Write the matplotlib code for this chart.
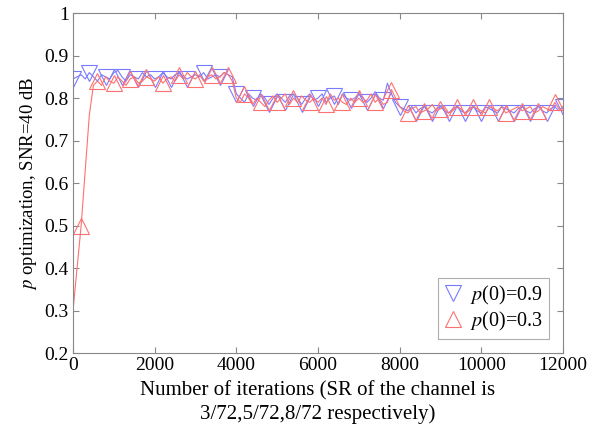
import numpy as np
import matplotlib
matplotlib.use("Agg")
import matplotlib.pyplot as plt

plt.rcParams['font.family'] = 'Liberation Serif'
plt.rcParams['mathtext.fontset'] = 'stix'

iters = np.arange(0, 12001, 100)

p_09 = [0.845, 0.85, 0.855, 0.845, 0.86, 0.85, 0.84, 0.855, 0.85, 0.845,
        0.86, 0.865, 0.85, 0.84, 0.855, 0.85, 0.845, 0.86, 0.85, 0.855,
        0.845, 0.85, 0.86, 0.85, 0.845, 0.855, 0.86, 0.85, 0.845, 0.85,
        0.855, 0.85, 0.86, 0.845, 0.85, 0.855, 0.85, 0.86, 0.855, 0.85,
        0.81, 0.80, 0.79, 0.81, 0.80, 0.795, 0.81, 0.80, 0.785, 0.80,
        0.81, 0.80, 0.79, 0.805, 0.81, 0.80, 0.785, 0.80, 0.81, 0.795,
        0.80, 0.81, 0.79, 0.80, 0.805, 0.785, 0.81, 0.80, 0.795, 0.80,
        0.81, 0.80, 0.79, 0.80, 0.815, 0.80, 0.795, 0.835, 0.81, 0.79,
        0.78, 0.775, 0.77, 0.78, 0.765, 0.775, 0.78, 0.77, 0.765, 0.775,
        0.78, 0.77, 0.765, 0.775, 0.78, 0.77, 0.765, 0.775, 0.78, 0.77,
        0.765, 0.78, 0.775, 0.77, 0.765, 0.78, 0.775, 0.77, 0.765, 0.775,
        0.78, 0.77, 0.765, 0.775, 0.78, 0.77, 0.765, 0.775, 0.78, 0.77, 0.78]

p_03 = [0.30, 0.40, 0.50, 0.63, 0.76,
        0.83, 0.84, 0.83, 0.85, 0.84,
        0.835, 0.85, 0.84, 0.83, 0.845, 0.85, 0.835, 0.84, 0.85, 0.845,
        0.84, 0.85, 0.835, 0.845, 0.85, 0.84, 0.855, 0.845, 0.86, 0.85,
        0.845, 0.855, 0.84, 0.85, 0.855, 0.845, 0.85, 0.86, 0.855, 0.84,
        0.80, 0.79, 0.81, 0.80, 0.785, 0.80, 0.79, 0.78, 0.795, 0.805,
        0.79, 0.80, 0.81, 0.785, 0.80, 0.79, 0.805, 0.795, 0.79, 0.80,
        0.79, 0.80, 0.785, 0.81, 0.795, 0.80, 0.79, 0.785, 0.80, 0.79,
        0.80, 0.79, 0.795, 0.81, 0.79, 0.80, 0.785, 0.79, 0.82, 0.80,
        0.78, 0.77, 0.765, 0.775, 0.78, 0.765, 0.77, 0.775, 0.785, 0.77,
        0.775, 0.78, 0.765, 0.77, 0.78, 0.775, 0.765, 0.77, 0.78, 0.775,
        0.77, 0.765, 0.78, 0.775, 0.77, 0.78, 0.765, 0.77, 0.775, 0.78,
        0.77, 0.775, 0.78, 0.765, 0.77, 0.78, 0.775, 0.77, 0.79, 0.775, 0.77]

fig = plt.figure(figsize=(5.9, 4.36), dpi=100)
ax = fig.add_axes([0.1237, 0.19, 0.8305, 0.78])

ax.plot(iters, p_09, color='#7a7aff', lw=0.8, marker='v', ms=11, mfc='none',
        mew=0.8, markevery=(0, 4), label='$p$(0)=0.9')
ax.plot(iters, p_03, color='#ff7070', lw=0.8, marker='^', ms=11, mfc='none',
        mew=0.8, markevery=(2, 4), label='$p$(0)=0.3')

ax.set_xlim(0, 12000)
ax.set_ylim(0.2, 1)
ax.set_xticks(np.arange(0, 12001, 2000))
ax.set_yticks([0.2, 0.3, 0.4, 0.5, 0.6, 0.7, 0.8, 0.9, 1])
ax.set_yticklabels(['0.2', '0.3', '0.4', '0.5', '0.6', '0.7', '0.8', '0.9', '1'])
ax.tick_params(direction='in', top=True, right=True, labelsize=14,
               color='#888888', length=4, pad=3)
for s in ax.spines.values():
    s.set_color('#888888')

ax.set_xlabel('Number of iterations (SR of the channel is\n3/72,5/72,8/72 respectively)',
              fontsize=15, labelpad=5, linespacing=1.25)
ax.set_ylabel('$p$ optimization, SNR=40 dB', fontsize=13.5, labelpad=4)

leg = ax.legend(loc='lower right', fontsize=14.5, handlelength=0.9,
                handletextpad=0.4, fancybox=False, borderaxespad=0.7,
                labelspacing=0.15, borderpad=0.3)
leg.get_frame().set_edgecolor('#999999')
leg.get_frame().set_linewidth(0.8)
for h in leg.legend_handles:
    h.set_linestyle('none')

fig.savefig('out.png', dpi=100)
